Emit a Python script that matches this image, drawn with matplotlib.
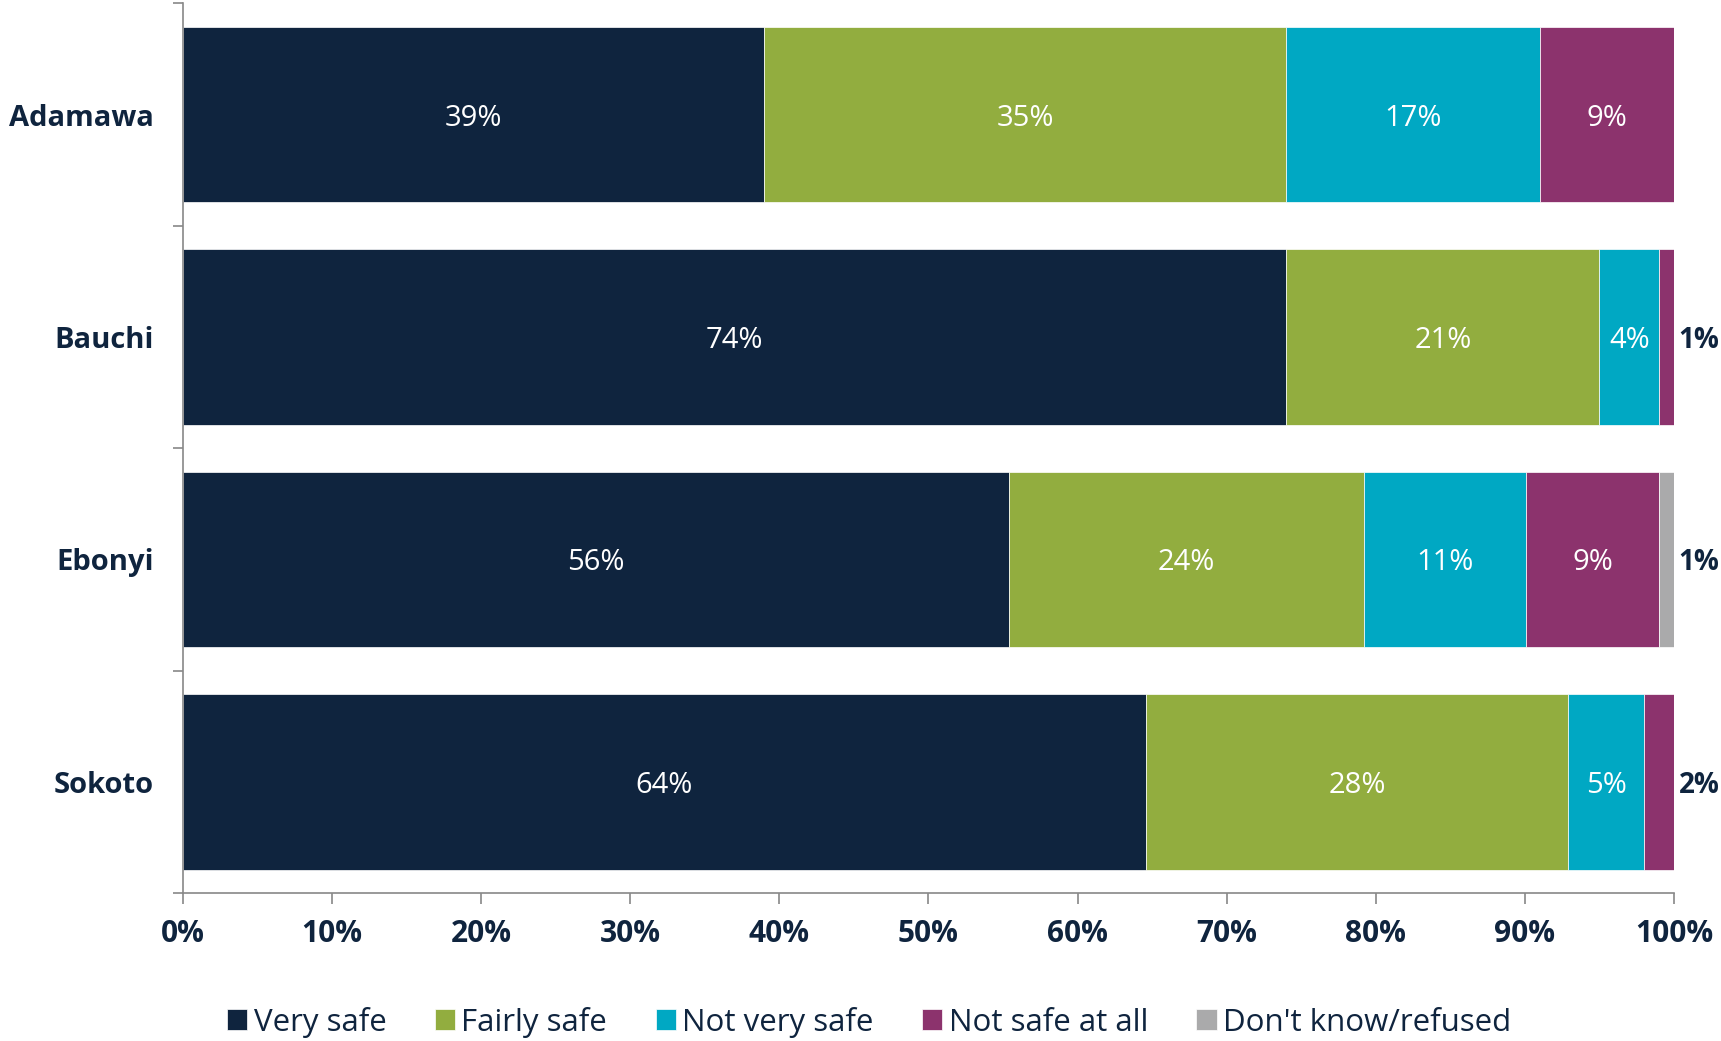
import numpy as np
import matplotlib
matplotlib.use('Agg')
import matplotlib.pyplot as plt

# survey data (share of respondents, %)
states = ['Adamawa', 'Bauchi', 'Ebonyi', 'Sokoto']
series = ['Very safe', 'Fairly safe', 'Not very safe', 'Not safe at all', "Don't know/refused"]

very_safe     = [39.0, 74.0, 55.4, 64.6]
fairly_safe   = [35.0, 21.0, 23.8, 28.3]
not_very_safe = [17.0, 4.0, 10.9, 5.1]
not_safe      = [9.0, 1.0, 8.9, 2.0]
dont_know     = [0.0, 0.0, 1.0, 0.0]

# labels as printed on the chart
very_safe_lbl     = ['39%', '74%', '56%', '64%']
fairly_safe_lbl   = ['35%', '21%', '24%', '28%']
not_very_safe_lbl = ['17%', '4%', '11%', '5%']
not_safe_lbl      = ['9%', '1%', '9%', '2%']
dont_know_lbl     = ['', '', '1%', '']

xticks = [0, 10, 20, 30, 40, 50, 60, 70, 80, 90, 100]

colors = ['#0F243E', '#92AD3F', '#00A8C3', '#8C336D', '#AAAAAB']
dark = '#0F243E'

values = [very_safe, fairly_safe, not_very_safe, not_safe, dont_know]
labels = [very_safe_lbl, fairly_safe_lbl, not_very_safe_lbl, not_safe_lbl, dont_know_lbl]

plt.rcParams['font.family'] = ['Open Sans', 'DejaVu Sans']

fig = plt.figure(figsize=(17.21, 10.41), dpi=100)
ax = fig.add_axes([0.1063, 0.1422, 0.8664, 0.8546])

y = np.arange(len(states))
left = np.zeros(len(states))
handles = []
for name, vals, lbls, col in zip(series, values, labels, colors):
    vals = np.array(vals)
    b = ax.barh(y, vals, left=left, height=0.79, color=col,
                edgecolor='white', linewidth=0.5, label=name)
    handles.append(b)
    for i in range(len(states)):
        if lbls[i] == '':
            continue
        if vals[i] >= 3:
            ax.text(left[i] + vals[i] / 2, y[i], lbls[i], ha='center',
                    va='center_baseline', color='white', fontsize=21)
        else:
            ax.text(100.3, y[i], lbls[i], ha='left', va='center_baseline',
                    color=dark, fontsize=20, fontweight='bold', clip_on=False)
    left = left + vals

ax.set_xlim(0, 100)
ax.set_ylim(len(states) - 0.5, -0.5)

ax.set_xticks(xticks)
ax.set_xticklabels(['{}%'.format(t) for t in xticks], fontsize=21.5,
                   fontweight='bold', color=dark)
ax.set_yticks(y)
ax.set_yticklabels(states, fontsize=21, fontweight='bold', color=dark,
                   va='center_baseline')
ax.set_yticks(np.arange(-0.5, len(states)), minor=True)

ax.tick_params(axis='x', which='major', length=8, width=1.2, color='#888888',
               direction='out', pad=11)
ax.tick_params(axis='y', which='major', length=0, pad=21)
ax.tick_params(axis='y', which='minor', length=7, width=1.2, color='#888888',
               direction='out')

for s in ['top', 'right']:
    ax.spines[s].set_visible(False)
for s in ['left', 'bottom']:
    ax.spines[s].set_color('#888888')
    ax.spines[s].set_linewidth(1.2)

leg = fig.legend(handles=handles, loc='lower center', bbox_to_anchor=(0.505, -0.024),
                 ncol=5, frameon=False, fontsize=22.5, handlelength=0.65,
                 handleheight=0.65, handletextpad=0.2, columnspacing=1.55)
for t in leg.get_texts():
    t.set_color(dark)

fig.savefig('out.png', dpi=100, facecolor='white')
